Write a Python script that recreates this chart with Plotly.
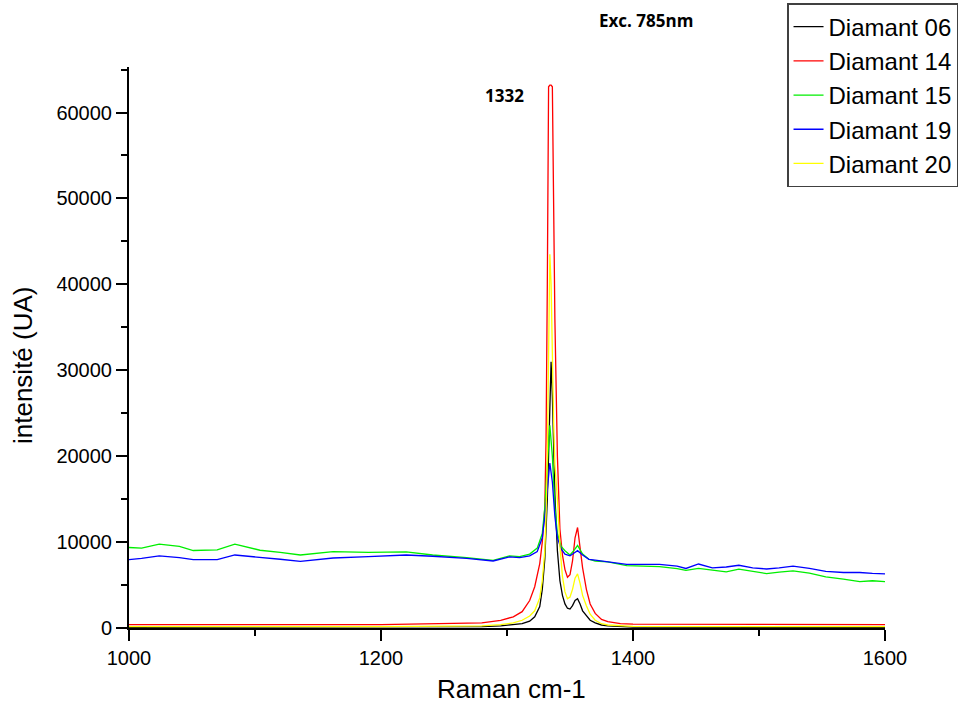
import plotly.graph_objects as go

# Wavenumbers (cm-1) for the spectra with a flat baseline
wn_flat = [1000, 1100, 1200, 1280, 1295, 1305, 1312, 1318, 1322, 1326, 1328, 1330,
           1331, 1332, 1333, 1334, 1335, 1336, 1337, 1338, 1340, 1342, 1344, 1346,
           1348, 1350, 1352, 1354, 1356, 1358, 1360, 1363, 1366, 1370, 1375, 1380,
           1390, 1400, 1500, 1600]

d06 = [80, 80, 80, 150, 250, 350, 500, 800, 1300, 2500, 4500, 8000,
       11000, 15000, 20000, 26000, 31000, 27000, 20000, 15500, 9000, 5500, 3800, 2800,
       2300, 2200, 2600, 3200, 3400, 2800, 2000, 1400, 900, 600, 350, 250,
       150, 100, 80, 80]

d14 = [400, 400, 400, 600, 900, 1300, 1900, 3200, 4800, 7500, 10000, 14000,
       22000, 40000, 63000, 63200, 63200, 63000, 50000, 36000, 20000, 11500, 8500, 6800,
       5900, 6200, 7800, 10500, 11700, 9500, 7000, 4500, 2800, 1700, 1000, 750,
       500, 450, 400, 400]

d20 = [150, 150, 150, 250, 400, 600, 900, 1400, 2000, 3500, 5500, 9000,
       13000, 20000, 32000, 43500, 40000, 30000, 24000, 19000, 15000, 9500, 6000, 4200,
       3400, 3600, 4500, 5800, 6300, 5200, 3800, 2600, 1600, 900, 500, 350,
       250, 200, 150, 150]

# Wavenumbers (cm-1) for the spectra with a high fluorescence background
wn_bg = [1000, 1010, 1024, 1040, 1051, 1070, 1084, 1104, 1120, 1136, 1162, 1190,
         1220, 1241, 1268, 1289, 1302, 1310, 1318, 1324, 1328, 1330, 1332, 1334,
         1336, 1338, 1340, 1343, 1346, 1350, 1353, 1356, 1360, 1365, 1370, 1380,
         1395, 1410, 1421, 1435, 1442, 1452, 1463, 1474, 1484, 1495, 1506, 1516,
         1527, 1540, 1553, 1567, 1580, 1590, 1600]

d15 = [9370, 9300, 9760, 9500, 9020, 9090, 9760, 9050, 8800, 8500, 8900, 8800,
       8870, 8500, 8200, 7870, 8400, 8300, 8600, 9300, 11000, 14000, 19000, 23600,
       20000, 14000, 11000, 9500, 9000, 8500, 9000, 9600, 8600, 8000, 7800, 7700,
       7250, 7200, 7150, 6900, 6700, 6930, 6700, 6540, 6850, 6600, 6340, 6500,
       6650, 6400, 5950, 5700, 5400, 5500, 5400]

d19 = [7960, 8100, 8390, 8200, 7960, 7960, 8500, 8250, 8000, 7760, 8150, 8300,
       8500, 8350, 8100, 7800, 8270, 8200, 8400, 8900, 10500, 13000, 16500, 19200,
       17000, 13000, 10500, 9200, 8600, 8400, 8700, 9000, 8500, 8000, 7900, 7700,
       7400, 7400, 7400, 7200, 6930, 7450, 7000, 7100, 7300, 7000, 6870, 7000,
       7200, 6950, 6600, 6460, 6460, 6350, 6300]

series = [
    ("Diamant 06", wn_flat, d06, "#000000"),
    ("Diamant 14", wn_flat, d14, "#ff0000"),
    ("Diamant 15", wn_bg, d15, "#00ee00"),
    ("Diamant 19", wn_bg, d19, "#0000ff"),
    ("Diamant 20", wn_flat, d20, "#ffff00"),
]

fig = go.Figure()
for name, x, y, c in series:
    fig.add_trace(go.Scatter(x=x, y=y, mode="lines", name=name,
                             line=dict(color=c, width=1.3)))

axis_common = dict(showline=True, linecolor="black", linewidth=2,
                   ticks="outside", ticklen=11, tickwidth=2, tickcolor="black",
                   showgrid=False, zeroline=False, mirror=False, automargin=False,
                   tickfont=dict(family="Liberation Sans, Arial", size=20, color="black"))

fig.update_xaxes(range=[1000, 1600], dtick=200, tick0=1000, tickformat="d",
                 minor=dict(ticks="outside", ticklen=6, tickwidth=2, tickcolor="black", dtick=100),
                 **axis_common)
fig.update_yaxes(range=[0, 65300], dtick=10000, tick0=0, tickformat="d",
                 minor=dict(ticks="outside", ticklen=6, tickwidth=2, tickcolor="black", dtick=5000),
                 **axis_common)

title_font = dict(family="Liberation Sans, Arial", size=26, color="black")

fig.update_layout(
    width=963, height=704,
    margin=dict(l=129, r=78, t=67, b=76, autoexpand=False),
    plot_bgcolor="white", paper_bgcolor="white",
    legend=dict(x=1.0966, y=1.114, xanchor="right", yanchor="top",
                bgcolor="white", bordercolor="#404040", borderwidth=1.5,
                font=dict(family="Liberation Sans, Arial", size=24, color="black"),
                tracegroupgap=0),
    annotations=[
        dict(text="Raman cm-1", x=0.5066, xref="paper", y=-0.1087, yref="paper",
             xanchor="center", yanchor="middle", showarrow=False, font=title_font),
        dict(text="intensité (UA)", x=-0.1402, xref="paper", y=0.4688, yref="paper",
             xanchor="center", yanchor="middle", textangle=-90, showarrow=False, font=title_font),
        dict(text="<b>Exc. 785nm</b>", x=1410, xref="x", y=1.082, yref="paper",
             xanchor="center", yanchor="middle",
             showarrow=False, font=dict(family="Open Sans", size=17, color="black")),
        dict(text="<b>1332</b>", x=1298, xref="x", y=62000, yref="y",
             xanchor="center", yanchor="middle",
             showarrow=False, font=dict(family="Open Sans", size=17, color="black")),
    ],
)

fig.write_html("out.html")
